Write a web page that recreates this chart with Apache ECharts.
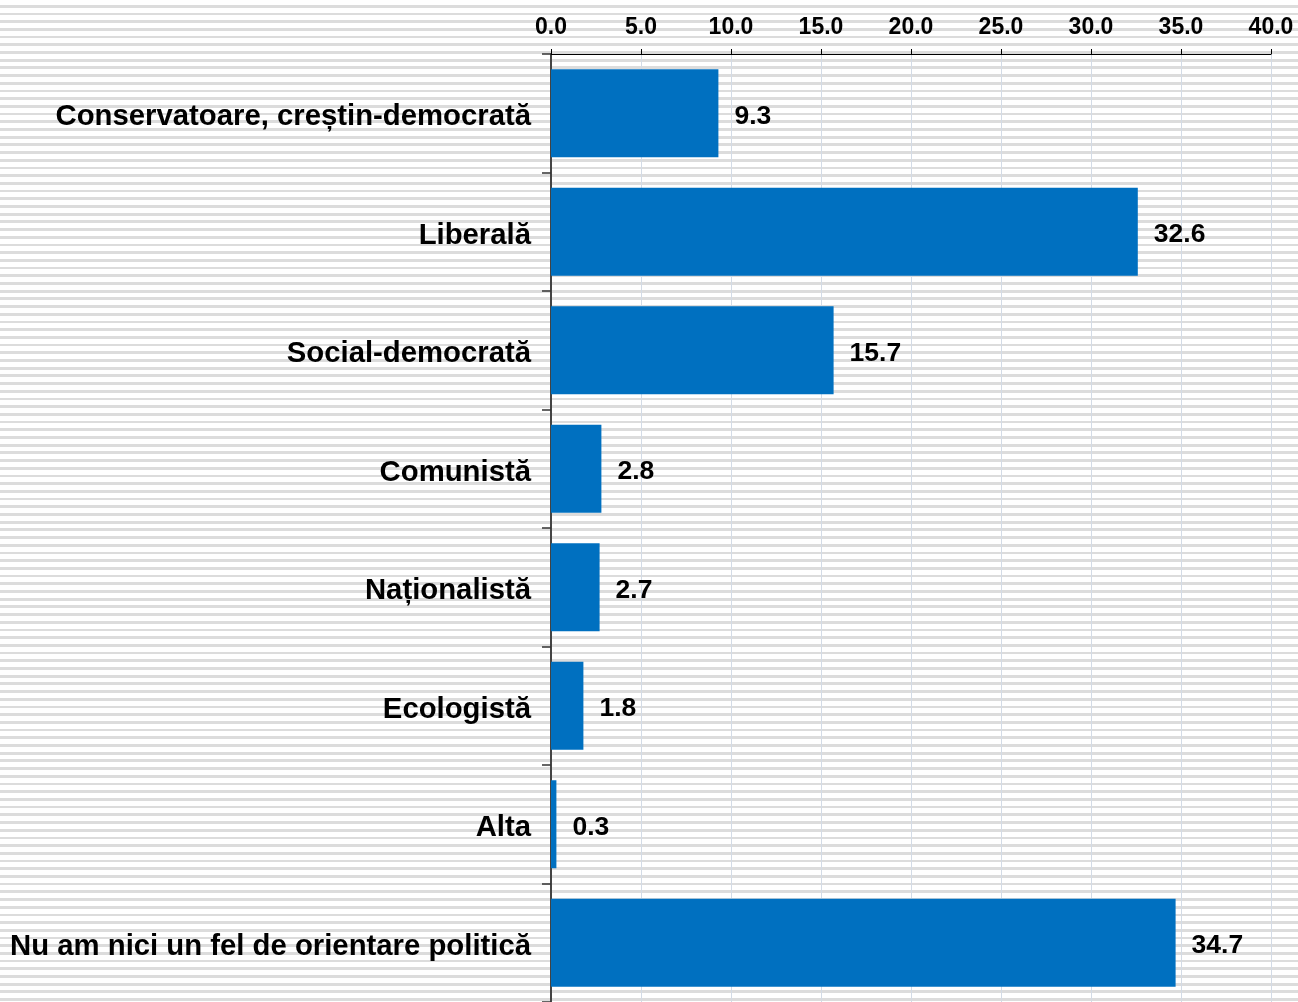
<!DOCTYPE html>
<html>
<head>
<meta charset="utf-8">
<script src="https://cdn.jsdelivr.net/npm/echarts@6/dist/echarts.min.js"></script>
<style>
    html, body {
        margin: 0;
        padding: 0;
        width: 1298px;
        height: 1002px;
        overflow: hidden;
        background: repeating-linear-gradient(180deg, #ffffff 0px, #ffffff 4.9px, #dcdcdc 4.9px, #dcdcdc 7.7px);
    }
    #chart { width: 1298px; height: 1002px; }
</style>
</head>
<body>
<div id="chart"></div>
<script>
// orientare politica (%)
const categories = [
    'Conservatoare, creștin-democrată',
    'Liberală',
    'Social-democrată',
    'Comunistă',
    'Naționalistă',
    'Ecologistă',
    'Alta',
    'Nu am nici un fel de orientare politică'
];
const values = [9.3, 32.6, 15.7, 2.8, 2.7, 1.8, 0.3, 34.7];

const axisMin = 0;
const axisMax = 40;
const axisStep = 5;

const fontFam = 'Arial, "Liberation Sans", sans-serif';

let myChart = echarts.init(document.getElementById('chart'));

myChart.setOption({
    backgroundColor: 'transparent',
    animation: false,
    grid: {
        left: 551,
        right: 27,
        top: 54,
        bottom: -4,
        containLabel: false
    },
    xAxis: {
        type: 'value',
        position: 'top',
        min: axisMin,
        max: axisMax,
        interval: axisStep,
        axisLine: { show: true, lineStyle: { color: '#000', width: 1 } },
        axisTick: { show: true, inside: false, length: 5, lineStyle: { color: '#000' } },
        axisLabel: {
            margin: 15,
            color: '#000',
            fontWeight: 'bold',
            fontFamily: fontFam,
            fontSize: 23,
            formatter: v => v.toFixed(1)
        },
        splitLine: { show: true, lineStyle: { color: '#d3dbe6', width: 1 } }
    },
    yAxis: {
        type: 'category',
        inverse: true,
        data: categories,
        axisLine: { show: true, lineStyle: { color: '#444', width: 2 } },
        axisTick: { show: true, length: 9, lineStyle: { color: '#333', width: 1.5 } },
        axisLabel: {
            margin: 20,
            color: '#000',
            fontWeight: 'bold',
            fontFamily: fontFam,
            fontSize: 29.3,
            formatter: v => '{c|' + v + '}',
            rich: {
                c: {
                    color: '#000',
                    fontWeight: 'bold',
                    fontFamily: fontFam,
                    fontSize: 29.3,
                    padding: [8, 0, 0, 0]
                }
            }
        },
        splitLine: { show: false }
    },
    series: [{
        type: 'bar',
        data: values,
        barWidth: 88,
        itemStyle: { color: '#0070c0' },
        label: {
            show: true,
            position: 'right',
            distance: 16,
            offset: [0, 3],
            color: '#000',
            fontWeight: 'bold',
            fontFamily: fontFam,
            fontSize: 26.5,
            formatter: p => p.value.toFixed(1)
        }
    }]
});
</script>
</body>
</html>
